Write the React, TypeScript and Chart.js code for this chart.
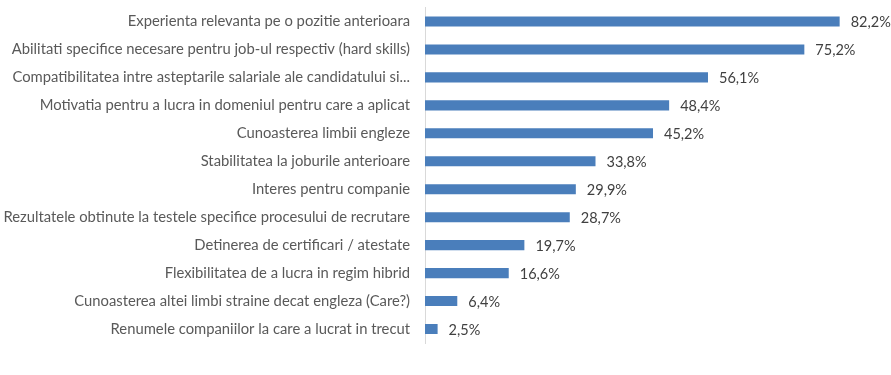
import React, { useEffect, useRef } from "react";
import { Chart, registerables } from "chart.js";

Chart.register(...registerables);

const categories = [
  "Experienta relevanta pe o pozitie anterioara",
  "Abilitati specifice necesare pentru job-ul respectiv (hard skills)",
  "Compatibilitatea intre asteptarile salariale ale candidatului si...",
  "Motivatia pentru a lucra in domeniul pentru care a aplicat",
  "Cunoasterea limbii engleze",
  "Stabilitatea la joburile anterioare",
  "Interes pentru companie",
  "Rezultatele obtinute la testele specifice procesului de recrutare",
  "Detinerea de certificari / atestate",
  "Flexibilitatea de a lucra in regim hibrid",
  "Cunoasterea altei limbi straine decat engleza (Care?)",
  "Renumele companiilor la care a lucrat in trecut",
];

const values = [82.2, 75.2, 56.1, 48.4, 45.2, 33.8, 29.9, 28.7, 19.7, 16.6, 6.4, 2.5];

const FONT = "Lato, 'Open Sans', sans-serif";
const TEXT = "#595959";

const fmt = (v: number) => v.toFixed(1).replace(".", ",") + "%";

const labelPlugin = {
  id: "barLabels",
  afterDatasetsDraw(chart: any) {
    const ctx = chart.ctx;
    const meta = chart.getDatasetMeta(0);
    ctx.save();
    ctx.font = `14.5px ${FONT}`;
    ctx.fillStyle = "#404040";
    ctx.textAlign = "left";
    ctx.textBaseline = "middle";
    meta.data.forEach((bar: any, i: number) => {
      ctx.fillText(fmt(values[i]), bar.x + 11, bar.y + 1);
    });
    ctx.restore();
  },
};

export default function App() {
  const ref = useRef<HTMLCanvasElement | null>(null);
  useEffect(() => {
    if (!ref.current) return;
    const chart = new Chart(ref.current, {
      type: "bar",
      data: {
        labels: categories,
        datasets: [
          {
            data: values,
            backgroundColor: "#4a7ebb",
            borderWidth: 0,
            categoryPercentage: 1,
            barPercentage: 0.36,
          },
        ],
      },
      options: {
        indexAxis: "y",
        animation: false,
        responsive: false,
        maintainAspectRatio: false,
        layout: { padding: { top: 7.5, bottom: 32, left: 0, right: 12 } },
        plugins: { legend: { display: false }, tooltip: { enabled: false } },
        scales: {
          x: {
            min: 0,
            max: 90,
            display: false,
          },
          y: {
            grid: { display: false, drawTicks: false },
            border: { display: true, color: "#d9d9d9", width: 1 },
            ticks: {
              color: TEXT,
              font: { family: FONT, size: 14.8 },
              padding: 15,
              autoSkip: false,
            },
            afterFit(scale: any) {
              scale.width = 425;
              scale.paddingTop = 0;
              scale.paddingBottom = 0;
            },
          },
        },
      },
      plugins: [labelPlugin],
    });
    return () => chart.destroy();
  }, []);
  return (
    <div style={{ position: "fixed", left: 0, top: 0, width: 891, height: 375, background: "#fff" }}>
      <canvas ref={ref} width={891} height={375} style={{ display: "block" }} />
    </div>
  );
}
